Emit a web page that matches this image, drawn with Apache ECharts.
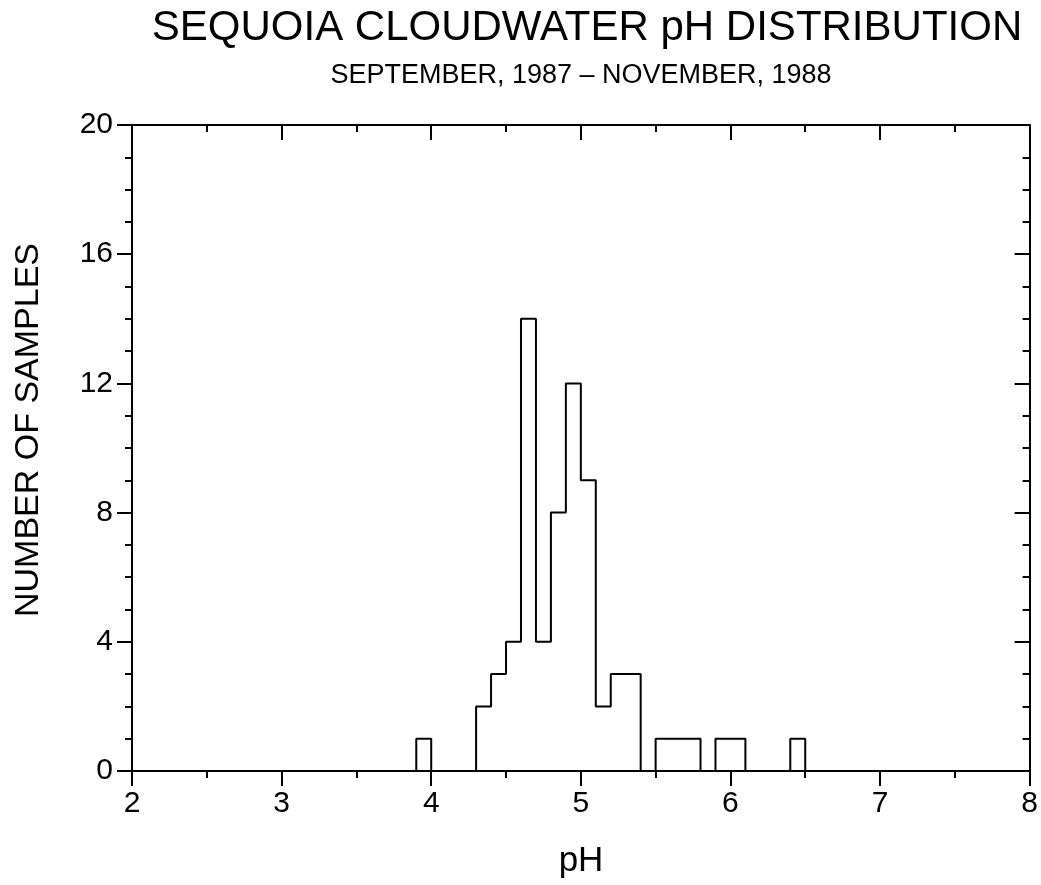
<!DOCTYPE html>
<html>
<head>
<meta charset="utf-8">
<script src="https://cdn.jsdelivr.net/npm/echarts@6/dist/echarts.min.js"></script>
<style>
html,body{margin:0;padding:0;background:#fff;}
#chart{width:1041px;height:885px;}
</style>
</head>
<body>
<div id="chart"></div>
<script>
// ---- data ----
const titleText = 'SEQUOIA CLOUDWATER pH DISTRIBUTION';
const subtitleText = 'SEPTEMBER, 1987 \u2013 NOVEMBER, 1988';
const xName = 'pH';
const yName = 'NUMBER OF SAMPLES';
// left edges of 0.1-wide pH bins
const binLefts = [3.9, 4.0, 4.1, 4.2, 4.3, 4.4, 4.5, 4.6, 4.7, 4.8, 4.9, 5.0, 5.1, 5.2, 5.3, 5.4, 5.5, 5.6, 5.7, 5.8, 5.9, 6.0, 6.1, 6.2, 6.3, 6.4];
const counts   = [1,   0,   0,   0,   2,   3,   4,   14,  4,   8,   12,  9,   2,   3,   3,   0,   1,   1,   1,   0,   1,   1,   0,   0,   0,   1];
const lastRightEdge = 6.5;
const xTicks = [2, 3, 4, 5, 6, 7, 8];
const yTicks = [0, 4, 8, 12, 16, 20];

// build step outline
const stepData = [[binLefts[0], 0]];
for (let i = 0; i < binLefts.length; i++) stepData.push([binLefts[i], counts[i]]);
stepData.push([lastRightEdge, 0]);

const FONT = 'Liberation Sans, Arial, sans-serif';
const chart = echarts.init(document.getElementById('chart'), null, {renderer: 'canvas'});
const grid = {left: 132, right: 11, top: 125, bottom: 114};
const axisLineStyle = {color: '#000', width: 2};

const xCommon = {
  type: 'value', min: xTicks[0], max: xTicks[xTicks.length - 1], interval: 1,
  splitLine: {show: false},
  axisLine: {show: true, onZero: false, lineStyle: axisLineStyle},
  minorTick: {show: true, splitNumber: 2, length: 7, lineStyle: {color: '#000', width: 2}},
  axisTick: {show: true, length: 15, lineStyle: {color: '#000', width: 2}}
};
const yCommon = {
  type: 'value', min: yTicks[0], max: yTicks[yTicks.length - 1], interval: 4,
  splitLine: {show: false},
  axisLine: {show: true, onZero: false, lineStyle: axisLineStyle},
  minorTick: {show: true, splitNumber: 4, length: 7, lineStyle: {color: '#000', width: 2}},
  axisTick: {show: true, length: 15, lineStyle: {color: '#000', width: 2}}
};

chart.setOption({
  animation: false,
  backgroundColor: '#fff',
  grid: grid,
  xAxis: [
    Object.assign({}, xCommon, {
      position: 'bottom',
      axisLabel: {show: true, color: '#000', fontFamily: FONT, fontSize: 30, margin: 18}
    }),
    Object.assign({}, xCommon, {
      position: 'top',
      axisTick: Object.assign({}, xCommon.axisTick, {inside: true}),
      axisLabel: {show: false}
    })
  ],
  yAxis: [
    Object.assign({}, yCommon, {
      position: 'left',
      axisLabel: {show: true, color: '#000', fontFamily: FONT, fontSize: 30, margin: 19}
    }),
    Object.assign({}, yCommon, {
      position: 'right',
      axisTick: Object.assign({}, yCommon.axisTick, {inside: true}),
      axisLabel: {show: false}
    })
  ],
  graphic: [
    {type: 'text', silent: true, x: 587, y: 28,
     style: {text: titleText, fill: '#000', font: '42px ' + FONT, textAlign: 'center', textVerticalAlign: 'middle'}},
    {type: 'text', silent: true, x: 581, y: 76,
     style: {text: subtitleText, fill: '#000', font: '27px ' + FONT, textAlign: 'center', textVerticalAlign: 'middle'}},
    {type: 'text', silent: true, x: 581, y: 861,
     style: {text: xName, fill: '#000', font: '35px ' + FONT, textAlign: 'center', textVerticalAlign: 'middle'}},
    {type: 'text', silent: true, rotation: Math.PI / 2, x: 29, y: 430,
     style: {text: yName, fill: '#000', font: '34px ' + FONT, textAlign: 'center', textVerticalAlign: 'middle'}}
  ],
  series: [{
    type: 'line',
    xAxisIndex: 0, yAxisIndex: 0,
    step: 'end',
    data: stepData,
    showSymbol: false,
    symbol: 'none',
    lineStyle: {color: '#000', width: 2},
    z: 5
  }]
});
</script>
</body>
</html>
